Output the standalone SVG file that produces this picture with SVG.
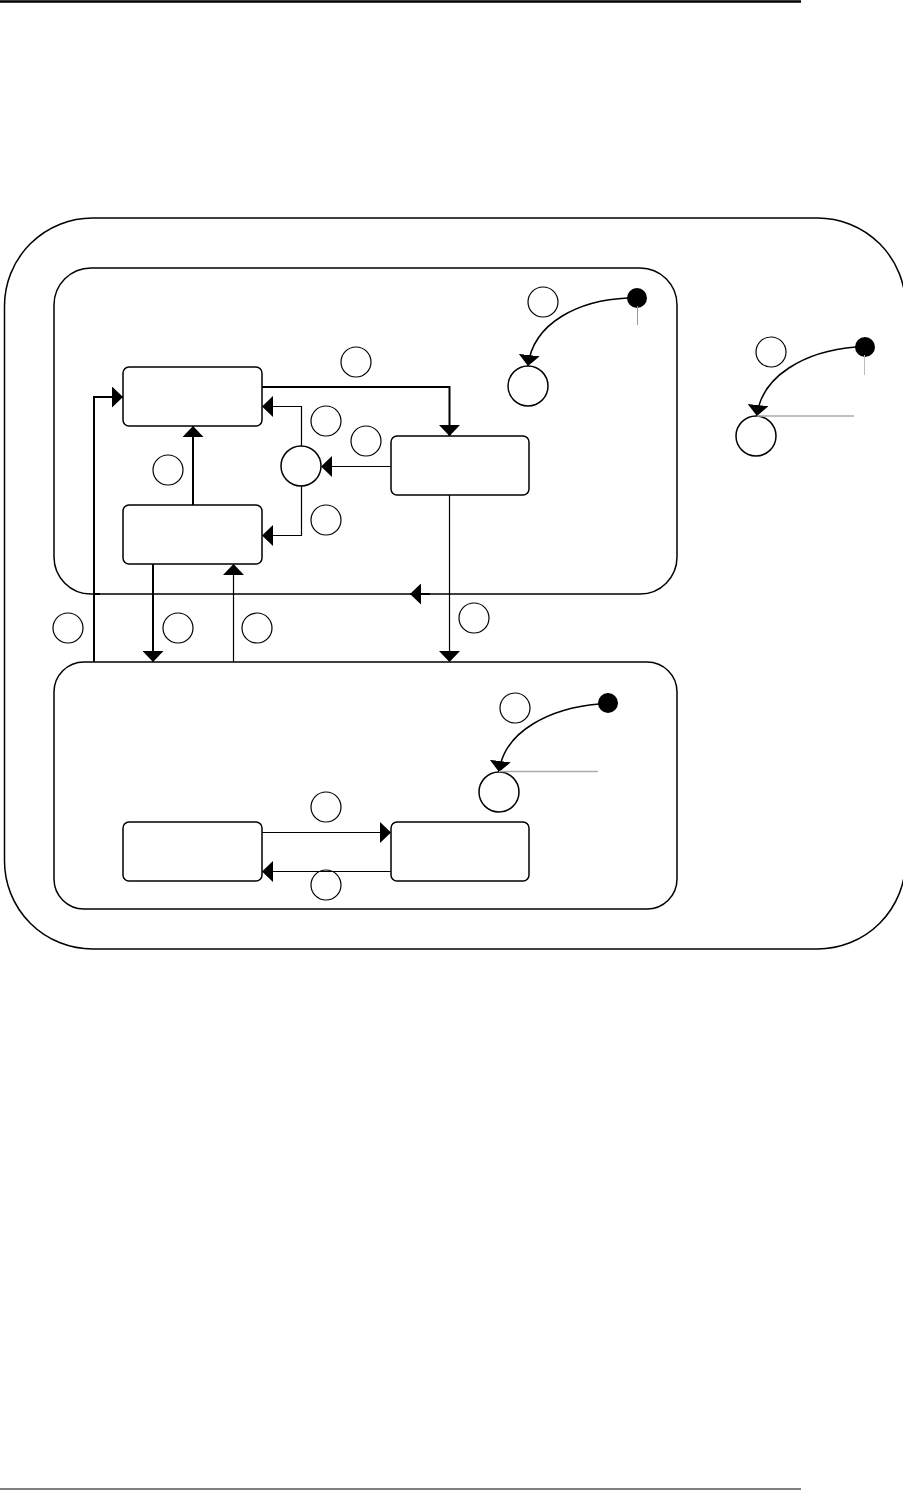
<svg xmlns="http://www.w3.org/2000/svg" width="903" height="1490" viewBox="0 0 903 1490">
<style>
.frame{fill:none;stroke:#000;stroke-width:1.5}
.box{fill:#fff;stroke:#000;stroke-width:1.5}
.lbl{fill:#fff;stroke:#000;stroke-width:1.2}
.tgt{fill:#fff;stroke:#000;stroke-width:1.5}
.dot{fill:#000}
.c{fill:none;stroke:#000}
.thick{stroke-width:2}
.thin{stroke-width:1.2}
.gray{fill:none;stroke:#aaa;stroke-width:1.5}
</style>
<defs>
<marker id="arr" viewBox="0 0 11 21" refX="11" refY="10.5" markerWidth="11" markerHeight="21" markerUnits="userSpaceOnUse" orient="auto">
<path d="M0,0 L11,10.5 L0,21 z" fill="#000"/>
</marker>
</defs>
<rect width="903" height="1490" fill="#fff"/>
<line x1="0" y1="1.5" x2="801" y2="1.5" stroke="#000" stroke-width="2.5"/>
<line x1="0" y1="1489" x2="801" y2="1489" stroke="#000" stroke-width="1.2"/>
<g id="outer"><rect class="frame" x="4.5" y="218" width="901" height="731" rx="88"/></g>
<g id="upper"><rect class="frame" x="54" y="268" width="623" height="326" rx="37"/></g>
<g id="lower"><rect class="frame" x="54" y="662" width="623" height="247" rx="30"/></g>
<g id="stateA"><rect class="box" x="123" y="367" width="139" height="59" rx="6"/></g>
<g id="stateB"><rect class="box" x="123" y="505" width="139" height="59" rx="6"/></g>
<g id="stateC"><rect class="box" x="391" y="436" width="138" height="59" rx="6"/></g>
<g id="stateD"><rect class="box" x="123" y="822" width="139" height="59" rx="6"/></g>
<g id="stateE"><rect class="box" x="391" y="822" width="138" height="59" rx="6"/></g>
<g id="junction"><circle class="tgt" cx="301" cy="466" r="20"/></g>
<g id="init1"><circle class="dot" cx="637" cy="298" r="10"/><line x1="637.5" y1="306" x2="637.5" y2="325" stroke="#999" stroke-width="1"/></g>
<g id="init2"><circle class="dot" cx="865" cy="347" r="10"/><line x1="864.5" y1="355" x2="864.5" y2="375" stroke="#bbb" stroke-width="1"/></g>
<g id="init3"><circle class="dot" cx="608" cy="703" r="10"/></g>
<g id="target1"><circle class="tgt" cx="528" cy="386" r="20"/></g>
<g id="target2"><circle class="tgt" cx="756" cy="436" r="20"/></g>
<g id="target3"><circle class="tgt" cx="499" cy="792" r="20"/></g>
<g id="labels">
<circle class="lbl" cx="543" cy="302" r="15"/>
<circle class="lbl" cx="356" cy="362" r="15"/>
<circle class="lbl" cx="326" cy="421" r="15"/>
<circle class="lbl" cx="366" cy="441" r="15"/>
<circle class="lbl" cx="168" cy="470" r="15"/>
<circle class="lbl" cx="326" cy="520" r="15"/>
<circle class="lbl" cx="68" cy="628" r="15"/>
<circle class="lbl" cx="178" cy="628" r="15"/>
<circle class="lbl" cx="257" cy="628" r="15"/>
<circle class="lbl" cx="474" cy="618" r="15"/>
<circle class="lbl" cx="771" cy="352" r="15"/>
<circle class="lbl" cx="515" cy="708" r="15"/>
<circle class="lbl" cx="326" cy="807" r="15"/>
<circle class="lbl" cx="326" cy="885" r="15"/>
</g>
<g id="connectors">
<path class="c thick" d="M262,387 H449.5 V436" marker-end="url(#arr)"/>
<path class="c thin" d="M391,466.5 H321" marker-end="url(#arr)"/>
<path class="c thin" d="M301.5,446 V406.5 H262" marker-end="url(#arr)"/>
<path class="c thin" d="M301.5,486 V535.5 H262" marker-end="url(#arr)"/>
<path class="c thick" d="M193,505 V426" marker-end="url(#arr)"/>
<path class="c thick" d="M94,662 V397 H123" marker-end="url(#arr)"/>
<path class="c thick" d="M153,564 V662" marker-end="url(#arr)"/>
<path class="c thin" d="M233.5,662 V564" marker-end="url(#arr)"/>
<path class="c thin" d="M449.5,495 V662" marker-end="url(#arr)"/>
<path class="c thick" d="M94,594 H100"/>
<path class="c thick" d="M430,594 H410" marker-end="url(#arr)"/>
<path class="c thin" d="M262,832.5 H391" marker-end="url(#arr)"/>
<path class="c thin" d="M391,871.5 H262" marker-end="url(#arr)"/>
<path class="c" stroke-width="1.5" d="M628,298 C580,300 533,322 528,366" marker-end="url(#arr)"/>
<path class="c" stroke-width="1.5" d="M856,347 C805,351 761,376 757,416" marker-end="url(#arr)"/>
<path class="c" stroke-width="1.5" d="M599,704 C552,708 504,730 499,772" marker-end="url(#arr)"/>
<line class="gray" x1="757" y1="416" x2="854" y2="416"/>
<line class="gray" x1="499" y1="771.5" x2="598" y2="771.5"/>
</g>
</svg>
